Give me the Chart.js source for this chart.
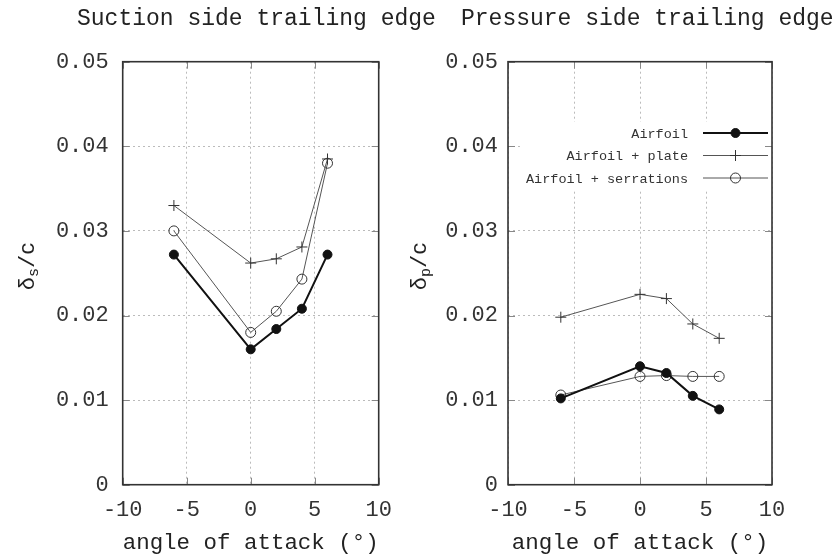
<!DOCTYPE html>
<html>
<head>
<meta charset="utf-8">
<script src="https://cdn.jsdelivr.net/npm/chart.js@4/dist/chart.umd.min.js"></script>
<style>
  html, body { margin: 0; padding: 0; background: #fff; }
  #wrap { position: relative; width: 835px; height: 557px; overflow: hidden; }
  #wrap canvas { position: absolute; left: 0; top: 0; }
</style>
</head>
<body>
<div id="wrap">
  <canvas id="suction" width="835" height="557"></canvas>
  <canvas id="pressure" width="835" height="557"></canvas>
</div>
<script>
// Boundary-layer thickness at the trailing edge versus angle of attack
const angles = [-6, 0, 2, 4, 6];

const suctionAirfoil    = [0.0272, 0.0160, 0.0184, 0.0208, 0.0272];
const suctionPlate      = [0.0330, 0.0262, 0.0267, 0.0281, 0.0385];
const suctionSerrations = [0.0300, 0.0180, 0.0205, 0.0243, 0.0380];

const pressureAirfoil    = [0.0102, 0.0140, 0.0132, 0.0105, 0.0089];
const pressurePlate      = [0.0198, 0.0225, 0.0220, 0.0190, 0.0173];
const pressureSerrations = [0.0106, 0.0128, 0.0129, 0.0128, 0.0128];

const seriesNames = ['Airfoil', 'Airfoil + plate', 'Airfoil + serrations'];
const panelTitles = ['Suction side trailing edge', 'Pressure side trailing edge'];
const yTitleSubs  = ['s', 'p'];
const xTitle      = 'angle of attack (\u00B0)';

const xTicks      = [-10, -5, 0, 5, 10];
const xTickLabels = ['-10', '-5', '0', '5', '10'];
const yTicks      = [0, 0.01, 0.02, 0.03, 0.04, 0.05];
const yTickLabels = ['0', '0.01', '0.02', '0.03', '0.04', '0.05'];

const MONO = '"Liberation Mono", "DejaVu Sans Mono", monospace';

function pts(ys) { return angles.map((x, i) => ({ x: x, y: ys[i] })); }

const seriesStyles = [
  { borderColor: '#111', borderWidth: 2, pointStyle: 'circle', pointRadius: 4.5,
    pointBackgroundColor: '#111', pointBorderColor: '#111', pointBorderWidth: 1 },
  { borderColor: '#555', borderWidth: 1, pointStyle: 'cross', pointRadius: 5.5,
    pointBackgroundColor: '#333', pointBorderColor: '#333', pointBorderWidth: 1 },
  { borderColor: '#555', borderWidth: 1, pointStyle: 'circle', pointRadius: 5,
    pointBackgroundColor: 'rgba(0,0,0,0)', pointBorderColor: '#333', pointBorderWidth: 1 }
];

function makeDatasets(a, b, c) {
  return [a, b, c].map((ys, i) => Object.assign({
    label: seriesNames[i], data: pts(ys), showLine: true, fill: false, tension: 0
  }, seriesStyles[i]));
}

// Frame, inward tick marks, panel title, y-axis title with subscript, optional key
function decorPlugin(cfg) {
  return {
    id: 'decor',
    afterDraw(chart) {
      const ctx = chart.ctx;
      const a = chart.chartArea;
      const xs = chart.scales.x, ys = chart.scales.y;

      if (cfg.legend) {
        const L = cfg.legend;
        ctx.save();
        ctx.fillStyle = '#fff';
        ctx.fillRect(L.boxLeft, L.rows[0] - 11, a.right - L.boxLeft - 1, L.rows[2] - L.rows[0] + 22);
        ctx.font = '13.5px ' + MONO;
        ctx.textAlign = 'right';
        ctx.textBaseline = 'middle';
        chart.data.datasets.forEach((ds, i) => {
          const y = L.rows[i];
          ctx.fillStyle = '#333';
          ctx.fillText(ds.label, L.textRight, y + 1);
          ctx.strokeStyle = ds.borderColor;
          ctx.lineWidth = ds.borderWidth;
          ctx.beginPath();
          ctx.moveTo(L.lineLeft, y);
          ctx.lineTo(L.lineRight, y);
          ctx.stroke();
          ctx.lineWidth = ds.pointBorderWidth;
          ctx.strokeStyle = ds.pointBorderColor;
          ctx.fillStyle = ds.pointBackgroundColor;
          Chart.helpers.drawPoint(ctx, {
            pointStyle: ds.pointStyle, radius: ds.pointRadius, rotation: 0, borderWidth: ds.pointBorderWidth
          }, (L.lineLeft + L.lineRight) / 2, y);
        });
        ctx.restore();
      }

      ctx.save();
      // inward ticks on all four sides
      ctx.strokeStyle = '#888';
      ctx.lineWidth = 1;
      const tl = 7;
      ctx.beginPath();
      xTicks.forEach(v => {
        const p = Math.round(xs.getPixelForValue(v)) + 0.5;
        ctx.moveTo(p, a.bottom); ctx.lineTo(p, a.bottom - tl);
        ctx.moveTo(p, a.top); ctx.lineTo(p, a.top + tl);
      });
      yTicks.forEach(v => {
        const p = Math.round(ys.getPixelForValue(v)) + 0.5;
        ctx.moveTo(a.left, p); ctx.lineTo(a.left + tl, p);
        ctx.moveTo(a.right, p); ctx.lineTo(a.right - tl, p);
      });
      ctx.stroke();

      // plot frame
      ctx.strokeStyle = '#333';
      ctx.lineWidth = 1.6;
      ctx.strokeRect(a.left, a.top, a.right - a.left, a.bottom - a.top);

      // panel title
      ctx.fillStyle = '#222';
      ctx.font = '23px ' + MONO;
      ctx.textAlign = 'left';
      ctx.textBaseline = 'middle';
      ctx.fillText(cfg.title, cfg.titleX, 19);

      // y-axis title: delta with subscript, over c
      ctx.translate(cfg.yTitleX, cfg.yTitleY);
      ctx.rotate(-Math.PI / 2);
      ctx.fillStyle = '#222';
      ctx.textAlign = 'left';
      ctx.textBaseline = 'middle';
      ctx.font = '22px ' + MONO;
      const wD = ctx.measureText('\u03B4').width;
      ctx.font = '15px ' + MONO;
      const wS = ctx.measureText(cfg.sub).width;
      ctx.font = '22px ' + MONO;
      const wC = ctx.measureText('/c').width;
      let x0 = -(wD + wS + wC) / 2;
      ctx.fillText('\u03B4', x0, 0);
      ctx.font = '15px ' + MONO;
      ctx.fillText(cfg.sub, x0 + wD, 6);
      ctx.font = '22px ' + MONO;
      ctx.fillText('/c', x0 + wD + wS, 0);
      ctx.restore();
    }
  };
}

function makeChart(id, datasets, pad, yWidth, cfg) {
  return new Chart(document.getElementById(id), {
    type: 'scatter',
    data: { datasets: datasets },
    options: {
      responsive: false,
      devicePixelRatio: 1,
      animation: false,
      events: [],
      layout: { padding: pad },
      plugins: { legend: { display: false }, tooltip: { enabled: false }, title: { display: false } },
      scales: {
        x: {
          type: 'linear', min: -10, max: 10,
          afterFit: s => { s.height = 557 - 484.7; },
          afterBuildTicks: s => { s.ticks = xTicks.map(v => ({ value: v })); },
          ticks: {
            padding: 12, color: '#333', maxRotation: 0, autoSkip: false,
            font: { family: MONO, size: 22 },
            callback: (v) => xTickLabels[xTicks.indexOf(v)]
          },
          grid: { color: '#bbb', lineWidth: 1, drawTicks: false },
          border: { display: false, dash: [2, 3] },
          title: {
            display: true, text: xTitle, color: '#222',
            font: { family: MONO, size: 22.5 }, padding: { top: 0, bottom: 0 }
          }
        },
        y: {
          type: 'linear', min: 0, max: 0.05,
          afterFit: s => { s.width = yWidth; },
          afterBuildTicks: s => { s.ticks = yTicks.map(v => ({ value: v })); },
          ticks: {
            padding: cfg.yPad, color: '#333', autoSkip: false,
            font: { family: MONO, size: 22 },
            callback: (v) => yTickLabels[yTicks.indexOf(v)]
          },
          grid: { color: '#bbb', lineWidth: 1, drawTicks: false },
          border: { display: false, dash: [2, 3] }
        }
      }
    },
    plugins: [decorPlugin(cfg)]
  });
}

// left panel: suction side
makeChart('suction',
  makeDatasets(suctionAirfoil, suctionPlate, suctionSerrations),
  { left: 0, top: 61.7, right: 835 - 378.7, bottom: 0 }, 122.7,
  { title: panelTitles[0], titleX: 77, sub: yTitleSubs[0], yTitleX: 28, yTitleY: 266, yPad: 14 });

// right panel: pressure side, with key
makeChart('pressure',
  makeDatasets(pressureAirfoil, pressurePlate, pressureSerrations),
  { left: 508 - 122.7, top: 61.7, right: 835 - 772, bottom: 0 }, 122.7,
  { title: panelTitles[1], titleX: 461, sub: yTitleSubs[1], yTitleX: 420, yTitleY: 266, yPad: 10,
    legend: { boxLeft: 522, textRight: 688, lineLeft: 703, lineRight: 768, rows: [133, 155.5, 178] } });
</script>
</body>
</html>
